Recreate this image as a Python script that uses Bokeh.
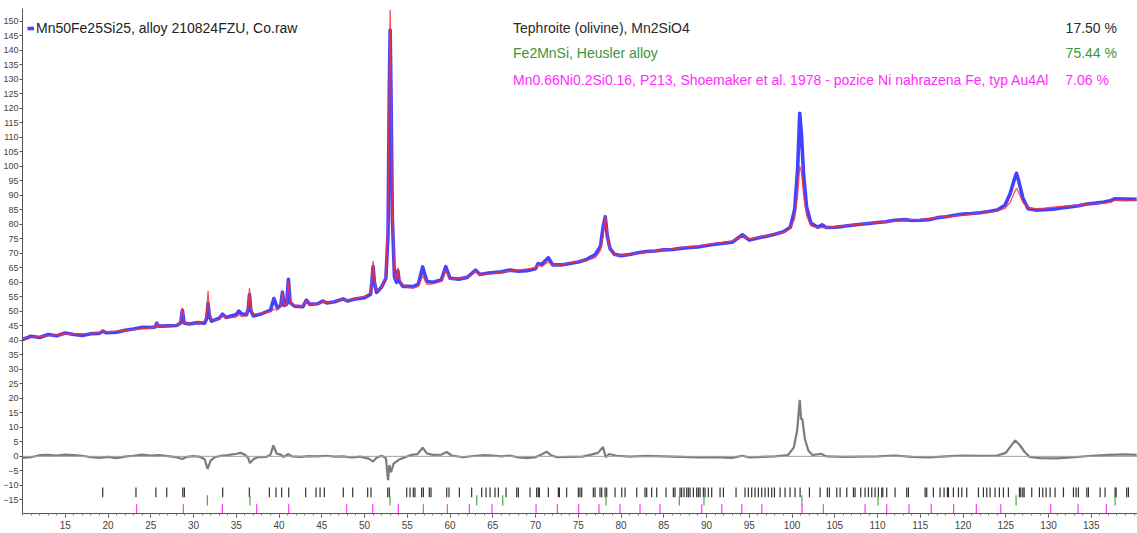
from bokeh.plotting import figure
from bokeh.models import (ColumnDataSource, FixedTicker, Span, Label, Legend,
                          LegendItem, Range1d)
from bokeh.embed import file_html
from bokeh.resources import INLINE

# ---------------- data ----------------
two_theta = [10.0, 11.0, 12.0, 13.0, 14.0, 15.0, 16.0, 17.0, 18.0, 19.0, 19.4, 19.8,
             21.0, 22.0, 23.0, 24.0, 25.0, 25.5, 25.7, 25.9, 26.5, 27.0, 28.0, 28.5,
             28.7, 28.9, 29.5, 30.5, 31.3, 31.55, 31.7, 31.85, 32.1, 33.0, 33.4, 33.8,
             35.0, 35.3, 35.6, 36.2, 36.4, 36.55, 36.7, 37.0, 38.0, 39.0, 39.4, 39.8,
             40.2, 40.4, 40.6, 40.9, 41.1, 41.3, 41.8, 42.8, 43.2, 43.6, 44.5, 45.1,
             45.6, 46.5, 47.5, 48.0, 49.0, 50.0, 50.7, 50.85, 51.0, 51.15, 51.4, 52.0,
             52.5, 52.75, 52.9, 53.0, 53.1, 53.25, 53.5, 53.75, 53.9, 54.05, 54.5, 55.0,
             55.7, 56.3, 56.8, 57.3, 58.0, 59.0, 59.5, 60.0, 61.0, 62.0, 63.0, 63.5,
             64.5, 66.0, 67.0, 68.0, 69.0, 70.0, 70.3, 70.7, 71.5, 72.0, 73.0, 74.0,
             75.0, 76.0, 77.0, 77.6, 77.9, 78.15, 78.4, 78.7, 79.2, 80.0, 81.0, 82.0,
             83.0, 84.0, 85.0, 86.0, 87.0, 88.0, 89.0, 90.0, 91.0, 92.0, 93.0, 94.2,
             95.0, 96.0, 97.0, 98.0, 99.0, 99.8, 100.3, 100.65, 100.9, 101.1, 101.35, 101.7,
             102.2, 103.0, 103.5, 104.0, 105.0, 106.0, 107.0, 108.0, 109.0, 110.0, 111.0, 112.0,
             113.4, 114.0, 115.0, 116.0, 117.0, 118.0, 119.0, 120.0, 121.0, 122.0, 123.0, 124.0,
             124.9, 125.5, 126.0, 126.25, 126.5, 127.0, 127.6, 128.5, 129.5, 130.5, 131.5, 132.5,
             133.5, 134.5, 135.5, 136.5, 137.3, 137.7, 139.0, 140.3]

calculated = [40.6, 41.0, 41.3, 41.6, 41.9, 42.1, 42.3, 42.2, 42.5, 42.8, 43.4, 42.9,
              43.2, 43.4, 43.7, 44.0, 44.2, 44.7, 46.0, 44.7, 44.6, 44.9, 45.3, 46.3,
              51.2, 46.3, 45.6, 46.0, 46.6, 50.0, 57.0, 50.0, 47.0, 47.3, 48.7, 47.6,
              48.0, 48.9, 48.2, 48.5, 51.5, 58.0, 51.5, 49.0, 49.4, 49.8, 50.8, 50.4,
              51.5, 56.8, 52.2, 52.5, 60.3, 53.0, 51.8, 51.8, 53.8, 52.4, 52.6, 53.3,
              53.0, 53.4, 54.3, 53.9, 54.4, 55.2, 56.5, 61.0, 67.3, 61.0, 57.0, 58.2,
              62.0, 85.0, 130.0, 154.0, 130.0, 85.0, 64.0, 61.0, 65.0, 61.0, 59.0, 58.3,
              58.0, 58.6, 62.3, 59.3, 59.5, 60.3, 64.0, 61.0, 61.3, 61.8, 64.0, 62.5,
              62.8, 63.5, 63.9, 64.2, 64.6, 65.0, 66.3, 65.4, 67.0, 65.8, 66.2, 66.7,
              67.1, 67.6, 68.5, 71.0, 76.0, 83.0, 76.0, 71.0, 69.5, 69.3, 69.7, 70.0,
              70.4, 70.8, 71.2, 71.5, 71.9, 72.3, 72.6, 73.0, 73.4, 73.8, 74.3, 76.2,
              75.0, 75.5, 76.0, 76.6, 77.2, 78.5, 82.0, 90.0, 100.0, 98.0, 90.0, 83.0,
              79.5, 78.8, 78.9, 78.9, 79.2, 79.5, 79.8, 80.1, 80.3, 80.6, 80.8, 81.1,
              81.8, 81.5, 81.7, 82.0, 82.3, 82.6, 82.9, 83.2, 83.5, 83.8, 84.2, 84.6,
              85.5, 87.5, 91.0, 92.4, 91.0, 87.5, 85.6, 85.4, 85.6, 85.9, 86.2, 86.4,
              86.6, 86.9, 87.1, 87.3, 87.6, 88.3, 88.1, 88.3]

observed = [40.3, 41.4, 41.0, 42.0, 41.6, 42.5, 42.0, 41.7, 42.3, 42.4, 43.2, 42.6,
            42.8, 43.5, 43.9, 44.5, 44.4, 44.6, 45.9, 44.9, 44.9, 45.0, 45.1, 46.0,
            50.4, 46.0, 45.6, 46.1, 45.9, 47.5, 52.7, 48.6, 46.6, 47.6, 49.0, 47.9,
            48.9, 50.1, 49.2, 48.8, 50.9, 55.8, 50.3, 48.4, 49.2, 50.4, 54.4, 51.3,
            52.0, 56.6, 52.0, 52.5, 61.0, 53.0, 51.8, 51.6, 53.9, 52.4, 52.6, 53.5,
            52.9, 53.3, 54.3, 53.6, 54.3, 54.7, 55.8, 59.8, 65.5, 60.2, 56.5, 58.4,
            61.4, 76.8, 127.0, 147.0, 124.5, 82.5, 62.0, 60.0, 64.0, 60.4, 58.6, 58.6,
            58.5, 59.4, 65.3, 60.3, 60.0, 60.9, 65.4, 61.4, 61.1, 61.7, 64.2, 62.7,
            63.2, 63.6, 64.2, 63.8, 64.0, 64.7, 66.5, 66.1, 68.5, 66.0, 66.0, 66.5,
            67.0, 67.9, 69.6, 72.5, 79.0, 82.6, 75.8, 71.7, 69.7, 69.2, 69.6, 70.2,
            70.6, 70.8, 71.2, 71.3, 71.7, 72.0, 72.2, 72.7, 73.1, 73.5, 73.8, 76.4,
            74.6, 75.3, 75.9, 76.6, 77.4, 79.0, 85.0, 99.0, 118.3, 111.0, 97.0, 86.0,
            80.4, 79.0, 79.8, 78.9, 79.0, 79.3, 79.7, 80.0, 80.3, 80.6, 80.9, 81.4,
            81.6, 81.3, 81.4, 81.6, 82.3, 82.6, 83.1, 83.5, 83.7, 84.0, 84.4, 84.9,
            86.6, 90.5, 95.5, 97.6, 95.0, 89.0, 85.4, 84.9, 85.0, 85.2, 85.6, 86.0,
            86.4, 87.0, 87.3, 87.7, 88.2, 88.8, 88.7, 88.6]

diff_theta = [10, 11, 12, 13, 14, 15, 16, 17, 18, 19, 20, 21, 22, 23, 24, 25, 26, 27, 28,
              28.7, 29.2, 30, 30.8, 31.3, 31.65, 32.0, 32.5, 33.4, 34, 35, 35.5, 36.0,
              36.4, 36.6, 37.0, 37.5, 38.5, 39.0, 39.35, 39.7, 40.2, 40.5, 41.1, 41.5,
              42.5, 43.5, 44.5, 45.5, 46.5, 47.5, 48.5, 49.5, 50.5, 51.0, 51.4, 52.0,
              52.5, 52.75, 52.9, 53.1, 53.4, 54.0, 54.8, 55.5, 56.2, 56.8, 57.3, 58.0,
              59.0, 59.6, 60.2, 61.5, 63, 64, 65, 66, 67, 68, 69, 70, 70.8, 71.3, 71.8,
              72.5, 74, 75.5, 76.5, 77.3, 77.9, 78.2, 78.6, 79.5, 81, 83, 85, 87, 89,
              91, 93, 94.2, 95, 96.5, 98, 99.5, 100.2, 100.6, 100.9, 101.05, 101.2,
              101.5, 101.9, 102.4, 103.4, 104, 106, 108, 110, 112, 114, 116, 118, 120,
              122, 124, 125, 125.6, 126.1, 126.6, 127.2, 127.8, 129, 131, 133, 135, 137,
              139, 140.3]
difference = [-0.5, -0.3, 0.4, 0.5, 0.3, 0.6, 0.4, 0.2, -0.3, -0.5, -0.2, -0.6, -0.1,
              0.2, 0.6, 0.3, 0.4, 0.1, -0.3, -0.9, -0.2, 0.1, -0.2, -1.0, -4.3, -1.5,
              -0.3, 0.3, 0.4, 0.9, 1.2, 0.6, -0.6, -2.3, -1.0, -0.3, -0.2, 0.6, 3.8,
              1.0, 0.6, -0.2, 0.8, 0.0, -0.2, 0.1, 0.0, 0.2, -0.1, 0.0, -0.4, -0.1,
              -0.8, -1.8, -0.5, 0.2, -0.6, -8.2, -3.0, -5.5, -2.5, -1.2, -0.2, 0.5,
              0.8, 3.0, 1.0, 0.5, 0.6, 1.5, 0.3, -0.3, 0.2, 0.4, 0.3, 0.0, 0.3, -0.4,
              -0.6, -0.3, 0.8, 1.6, 0.4, -0.3, -0.2, -0.1, 0.6, 1.2, 3.2, -0.3, 0.8,
              0.2, -0.1, 0.2, 0.0, -0.2, -0.4, -0.3, -0.5, 0.2, -0.4, -0.2, 0.0, 0.4,
              3.0, 9.0, 19.5, 13.0, 12.8, 6.0, 2.0, 0.4, 0.9, 0.0, -0.2, -0.1, 0.0,
              0.3, -0.2, -0.4, 0.0, 0.3, 0.2, 0.3, 1.2, 3.6, 5.5, 4.0, 1.5, -0.2, -0.6,
              -0.7, -0.3, 0.2, 0.5, 0.7, 0.5]

tephroite_pos = [19.38, 23.27, 25.6, 26.87, 28.74, 28.93, 33.41, 36.53, 38.87, 39.65,
                 40.31, 41.13, 43.12, 44.33, 44.8, 45.3, 47.52, 48.62, 50.37, 50.76,
                 52.71, 52.9, 54.93, 55.32, 55.71, 55.9, 56.68, 56.88, 57.58, 57.78,
                 59.61, 59.88, 61.09, 62.53, 63.7, 64.21, 64.68, 65.26, 65.65, 66.55,
                 67.8, 67.99, 69.35, 70.13, 70.33, 70.45, 71.5, 72.67, 72.79, 73.64,
                 75.01, 75.2, 75.4, 76.76, 76.96, 77.54, 77.74, 78.13, 78.32, 79.3,
                 80.08, 80.47, 81.83, 82.8, 83.0, 83.58, 84.17, 85.26, 86.12, 86.31,
                 86.9, 87.09, 87.37, 87.68, 87.87, 88.07, 88.46, 88.85, 89.04, 89.24,
                 89.63, 89.82, 90.21, 90.6, 91.58, 91.97, 93.45, 94.5, 94.89, 95.28,
                 95.67, 96.06, 96.45, 96.84, 97.23, 97.62, 97.94, 98.6, 99.18, 99.77,
                 100.35, 100.94, 102.03, 103.28, 104.13, 104.37, 105.23, 105.62, 106.4,
                 107.18, 107.37, 108.03, 108.54, 108.93, 109.32, 109.71, 110.1, 110.49,
                 110.61, 111.07, 112.05, 113.41, 113.61, 115.56, 115.75, 116.53, 117.31,
                 117.78, 118.17, 118.29, 118.87, 119.46, 119.85, 120.43, 121.8, 122.38,
                 122.77, 123.16, 123.74, 124.25, 124.72, 125.3, 126.59, 126.75, 126.98,
                 127.14, 128.03, 128.93, 129.32, 129.71, 130.18, 130.76, 131.74, 132.91,
                 133.22, 133.49, 134.47, 134.66, 136.03, 136.61, 137.78, 137.9, 139.14,
                 139.34]
heusler_pos = [31.62, 36.6, 52.98, 63.12, 66.16, 78.24, 86.82, 89.7, 101.15, 110.05,
               126.2, 137.78]
au4al_pos = [23.35, 28.81, 33.37, 37.39, 41.13, 47.92, 50.96, 53.95, 56.88, 59.69, 62.26,
             64.91, 70.06, 72.55, 75.05, 77.42, 79.88, 82.22, 84.56, 89.44, 91.78, 94.12,
             96.47, 101.17, 103.66, 108.54, 111.07, 113.67, 116.28, 118.9, 121.55, 124.41,
             130.26, 133.45, 136.76]

series_name = "Mn50Fe25Si25, alloy 210824FZU, Co.raw"
phase_names = ["Tephroite (olivine), Mn2SiO4",
               "Fe2MnSi, Heusler alloy",
               "Mn0.66Ni0.2Si0.16, P213, Shoemaker et al. 1978 - pozice Ni nahrazena Fe, typ Au4Al"]
phase_pct = ["17.50 %", "75.44 %", "7.06 %"]
x_tick_values = list(range(15, 136, 5))
y_tick_values = list(range(-15, 151, 5))

# ---------------- styling ----------------
FONT = "Liberation Sans"
phase_colors = ["#2a2a2a", "#3a963a", "#ff2bff"]
tick_colors = ["#333333", "#4aa84a", "#ff33ff"]
tick_rows = [(-10.7, -14.1), (-13.4, -16.9), (-16.5, -19.7)]

p = figure(width=1137, height=533, output_backend="svg", toolbar_location=None,
           x_range=Range1d(10, 140.4), y_range=Range1d(-19.7, 154.4),
           min_border_left=22, min_border_right=0, min_border_top=8,
           min_border_bottom=20, background_fill_color="white",
           border_fill_color="white")
p.outline_line_color = None
p.grid.visible = False

# zero line for difference
p.add_layout(Span(location=0, dimension="width", line_color="#a0a0a0", line_width=1))

src = ColumnDataSource(dict(x=two_theta, obs=observed, calc=calculated))
obs_r = p.line("x", "obs", source=src, line_color="#1414ff", line_width=3.6,
               line_alpha=0.8, line_join="round")
p.line("x", "calc", source=src, line_color="#ff3030", line_width=1.3, line_alpha=0.85)

dsrc = ColumnDataSource(dict(x=diff_theta, y=difference))
p.line("x", "y", source=dsrc, line_color="#6e6e6e", line_width=2.2, line_alpha=0.9)

for pos, col, (y0, y1) in zip([tephroite_pos, heusler_pos, au4al_pos], tick_colors, tick_rows):
    s = ColumnDataSource(dict(x=pos))
    p.segment(x0="x", x1="x", y0=y0, y1=y1, source=s, line_color=col, line_width=1.2)

# axes
p.xaxis.ticker = FixedTicker(ticks=x_tick_values, minor_ticks=list(range(10, 141)))
p.yaxis.ticker = FixedTicker(ticks=y_tick_values, minor_ticks=[])
for ax in (p.xaxis, p.yaxis):
    ax.axis_line_color = "#555555"
    ax.major_tick_line_color = "#555555"
    ax.minor_tick_line_color = "#777777"
    ax.major_tick_in = 0
    ax.minor_tick_in = 0
    ax.major_label_text_color = "#444444"
    ax.major_label_text_font = FONT
p.xaxis.major_tick_out = 4
p.xaxis.minor_tick_out = 2
p.xaxis.major_label_text_font_size = "10px"
p.xaxis.major_label_standoff = 3
p.yaxis.major_tick_out = 3
p.yaxis.major_label_text_font_size = "9px"
p.yaxis.major_label_standoff = 1

# legend (observed series)
legend = Legend(items=[LegendItem(label=series_name, renderers=[obs_r])],
                location=(5, 477), margin=0, padding=0, glyph_width=7,
                glyph_height=16, label_height=16, label_standoff=2,
                label_text_font_size="14px", label_text_font=FONT,
                label_text_color="#222222", background_fill_alpha=0,
                border_line_color=None)
p.add_layout(legend)

# phase labels
row_y = [147.6, 139.0, 129.9]
pct_x = [138.0, 138.0, 137.05]
for name, pct, col, yy, px in zip(phase_names, phase_pct, phase_colors, row_y, pct_x):
    p.add_layout(Label(x=67.37, y=yy, text=name, text_baseline="middle",
                       text_font=FONT, text_font_size="14px", text_color=col))
    p.add_layout(Label(x=px, y=yy, text=pct, text_baseline="middle", text_align="right",
                       text_font=FONT, text_font_size="14px", text_color=col))

open("out.html", "w").write(file_html(p, INLINE))
